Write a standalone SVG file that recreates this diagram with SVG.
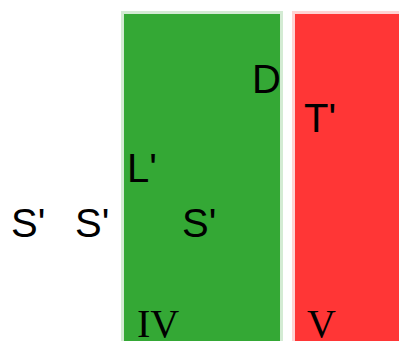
<svg xmlns="http://www.w3.org/2000/svg" width="399" height="341" viewBox="0 0 399 341">
<style>
.lbl{font-family:"Liberation Sans",Arial,sans-serif;font-size:40px;fill:#000}
.rom{font-family:"Liberation Serif","Times New Roman",serif;font-size:40px;fill:#000}
</style>
<rect width="399" height="341" fill="#fff"/>
<g id="region-IV">
<rect x="122.5" y="12.5" width="159" height="340" fill="#34a835" stroke="#d3ebd3" stroke-width="3"/>
<text class="rom" x="137" y="337">IV</text>
</g>
<g id="region-V">
<rect x="293.5" y="12.5" width="120" height="340" fill="#ff3636" stroke="#ffd3d3" stroke-width="3"/>
<text class="rom" x="307" y="337">V</text>
</g>
<g id="node-D"><text class="lbl" x="252" y="93">D</text></g>
<g id="node-T"><text class="lbl" x="304" y="132">T'</text></g>
<g id="node-L"><text class="lbl" x="127" y="182">L'</text></g>
<g id="node-S1"><text class="lbl" x="11" y="237">S'</text></g>
<g id="node-S2"><text class="lbl" x="75" y="237">S'</text></g>
<g id="node-S3"><text class="lbl" x="182" y="237">S'</text></g>
<g id="connectors"></g>
</svg>
